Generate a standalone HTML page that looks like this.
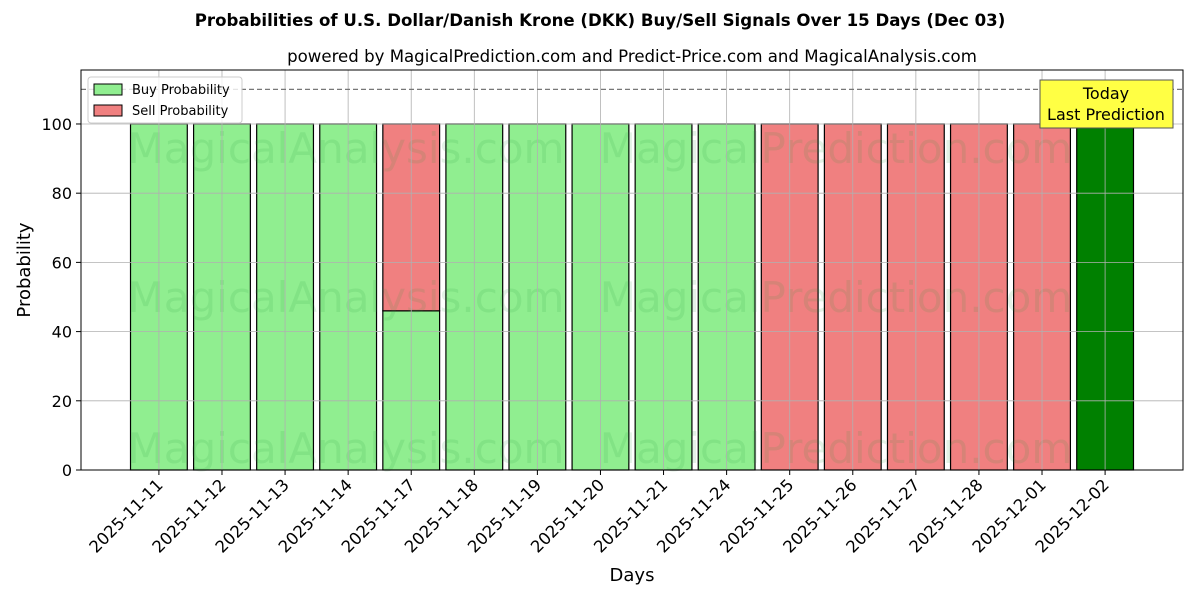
<!DOCTYPE html>
<html><head><meta charset="utf-8"><style>
body{margin:0;background:#fff;font-family:"DejaVu Sans","Liberation Sans",sans-serif;}
svg text{font-family:"DejaVu Sans","Liberation Sans",sans-serif;}
</style></head><body>
<svg id="chart" width="1200" height="600" xmlns="http://www.w3.org/2000/svg">
<rect width="1200" height="600" fill="#fff"/>
<text x="600" y="26" text-anchor="middle" font-size="16.6" font-weight="bold">Probabilities of U.S. Dollar/Danish Krone (DKK) Buy/Sell Signals Over 15 Days (Dec 03)</text>
<text x="632" y="62" text-anchor="middle" font-size="16.6">powered by MagicalPrediction.com and Predict-Price.com and MagicalAnalysis.com</text>
<g id="bars"></g>
<g id="wm" fill="#2a9d3a" fill-opacity="0.13" font-size="42">
<text x="346" y="163" text-anchor="middle">MagicalAnalysis.com</text>
<text x="836" y="163" text-anchor="middle">MagicalPrediction.com</text>
<text x="346" y="312" text-anchor="middle">MagicalAnalysis.com</text>
<text x="836" y="312" text-anchor="middle">MagicalPrediction.com</text>
<text x="346" y="463" text-anchor="middle">MagicalAnalysis.com</text>
<text x="836" y="463" text-anchor="middle">MagicalPrediction.com</text>
</g>
<g id="grid"></g>
<g id="axes"></g>
<rect x="81" y="70" width="1102" height="400" fill="none" stroke="#000" stroke-width="1"/>
<g>
<rect x="88" y="77" width="154" height="46" fill="#fff" fill-opacity="0.8" stroke="#ccc" rx="3"/>
<rect x="94" y="84" width="28" height="11" fill="#90ee90" stroke="#000"/>
<text x="132" y="94" font-size="13">Buy Probability</text>
<rect x="94" y="105" width="28" height="11" fill="#f08080" stroke="#000"/>
<text x="132" y="115" font-size="13">Sell Probability</text>
</g>
<g>
<rect x="1040" y="80" width="133" height="48" fill="#ffff44" stroke="#555"/>
<text x="1106" y="99" text-anchor="middle" font-size="16">Today</text>
<text x="1106" y="120" text-anchor="middle" font-size="16">Last Prediction</text>
</g>
<text x="30" y="270" transform="rotate(-90 30 270)" text-anchor="middle" font-size="18">Probability</text>
<text x="632" y="581" text-anchor="middle" font-size="18">Days</text>
</svg>
<script>
const categories=["2025-11-11","2025-11-12","2025-11-13","2025-11-14","2025-11-17","2025-11-18","2025-11-19","2025-11-20","2025-11-21","2025-11-24","2025-11-25","2025-11-26","2025-11-27","2025-11-28","2025-12-01","2025-12-02"];
const buyValues=[100,100,100,100,46,100,100,100,100,100,0,0,0,0,0,100];
const sellValues=[0,0,0,0,54,0,0,0,0,0,100,100,100,100,100,0];
const yTicks=[0,20,40,60,80,100];
const NS="http://www.w3.org/2000/svg";
const L=81,R=1183,T=70,B=470,xmin=-1.235,xmax=16.235,ymax=115.6;
const xs=i=>L+(i-xmin)/(xmax-xmin)*(R-L);
const ys=v=>B-v/ymax*(B-T);
const bw=0.9*(R-L)/(xmax-xmin);
function mk(t,a,p){const e=document.createElementNS(NS,t);for(const k in a)e.setAttribute(k,a[k]);p.appendChild(e);return e;}
const bars=document.getElementById('bars'),grid=document.getElementById('grid'),axes=document.getElementById('axes');
categories.forEach((c,i)=>{
  const last=i===categories.length-1;
  if(buyValues[i]>0){const r=mk('rect',{x:xs(i)-bw/2,y:ys(buyValues[i]),width:bw,height:ys(0)-ys(buyValues[i]),fill:last?'#008000':'#90ee90',stroke:'#000','stroke-width':1.2},bars);
  
  }
  if(sellValues[i]>0){const top=buyValues[i]+sellValues[i];const r=mk('rect',{x:xs(i)-bw/2,y:ys(top),width:bw,height:ys(buyValues[i])-ys(top),fill:'#f08080',stroke:'#000','stroke-width':1.2},bars);
  
  }
  mk('line',{x1:xs(i),x2:xs(i),y1:T,y2:B,stroke:'#b0b0b0','stroke-width':0.8},grid);
  mk('line',{x1:xs(i),x2:xs(i),y1:B,y2:B+5,stroke:'#000'},axes);
  const t=mk('text',{x:xs(i)+5,y:B+16,'text-anchor':'end','font-size':16.5,transform:`rotate(-45 ${xs(i)+5} ${B+16})`},axes);
  t.textContent=c;
  
  
});
yTicks.forEach(v=>{
  mk('line',{x1:L-5,x2:L,y1:ys(v),y2:ys(v),stroke:'#000'},axes);
  mk('line',{x1:L,x2:R,y1:ys(v),y2:ys(v),stroke:'#b0b0b0','stroke-width':0.8},grid);
  const t=mk('text',{x:L-9,y:ys(v)+6,'text-anchor':'end','font-size':16},axes);
  t.textContent=v;
  
  
});
const d=mk('line',{x1:L,x2:R,y1:ys(110),y2:ys(110),stroke:'#777','stroke-width':1.2,'stroke-dasharray':'5,3'},grid);


</script>
</body></html>
